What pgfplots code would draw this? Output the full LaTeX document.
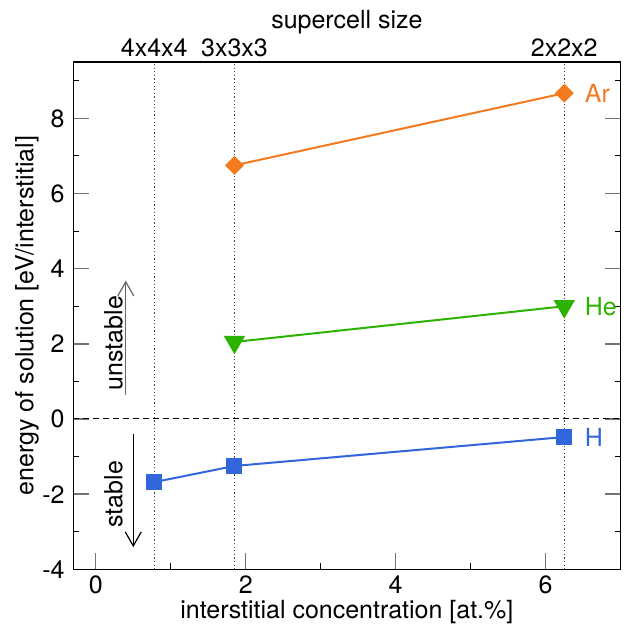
\documentclass[border=0pt]{standalone}
\usepackage{fontspec}
\setmainfont{TeX Gyre Heros}
\usepackage{pgfplots}
\pgfplotsset{compat=1.18}
\usetikzlibrary{arrows.meta}

\definecolor{arOrange}{RGB}{244,122,32}
\definecolor{heGreen}{RGB}{44,178,0}
\definecolor{hBlue}{RGB}{50,102,220}

\begin{document}
\fontsize{12.5}{15}\selectfont
\begin{tikzpicture}
\useasboundingbox (-36.65pt,-27.85pt) rectangle (278.35pt,284.65pt);
\begin{axis}[
    scale only axis,
    width=273.6pt,
    height=253.65pt,
    at={(0,0)}, anchor=south west,
    xmin=-0.3, xmax=7,
    ymin=-4, ymax=9.5,
    xtick={0,2,4,6},
    minor xtick={1,3,5},
    ytick={-4,-2,0,2,4,6,8},
    minor ytick={-3,-1,1,3,5,7,9},
    xtick pos=left,
    tick align=inside,
    major tick length=8pt,
    minor tick length=3pt,
    major tick style={black!55, line width=0.7pt},
    minor tick style={black, line width=0.5pt},
    axis line style={line width=0.6pt},
    xticklabel style={inner sep=1pt, yshift=-2.2pt},
    /pgf/number format/assume math mode=true,
    clip=false,
]

% supercell reference lines
\draw[black!75, line width=0.5pt, dash pattern=on 0.6pt off 1.2pt]
    (axis cs:0.78,-4) -- (axis cs:0.78,9.5);
\draw[black!75, line width=0.5pt, dash pattern=on 0.6pt off 1.2pt]
    (axis cs:1.85,-4) -- (axis cs:1.85,9.5);
\draw[black!75, line width=0.5pt, dash pattern=on 0.6pt off 1.2pt]
    (axis cs:6.25,-4) -- (axis cs:6.25,9.5);
\draw[black, line width=0.5pt, dash pattern=on 3pt off 2pt]
    (axis cs:-0.3,0) -- (axis cs:7,0);

\addplot[hBlue, line width=1pt, mark=square*, mark size=3.5pt]
    coordinates {(0.78,-1.68) (1.85,-1.25) (6.25,-0.48)};
\addplot[heGreen, line width=1pt, mark=triangle*, mark size=5.2pt,
    mark options={rotate=180}]
    coordinates {(1.85,2.05) (6.25,3.0)};
\addplot[arOrange, line width=1pt, mark=square*, mark size=2.85pt,
    mark options={rotate=45}]
    coordinates {(1.85,6.75) (6.25,8.67)};

\node[anchor=west, inner sep=0pt, text=arOrange] at (axis cs:6.52,8.67) {Ar};
\node[anchor=west, inner sep=0pt, text=heGreen] at (axis cs:6.52,3.0) {He};
\node[anchor=west, inner sep=0pt, text=hBlue] at (axis cs:6.52,-0.48) {H};

% stability hints
\node[rotate=90] at (axis cs:0.235,2.02) {unstable};
\node[rotate=90] at (axis cs:0.235,-2.0) {stable};
\draw[black!60, line width=0.6pt, -{Straight Barb[length=7pt,width=8pt]}]
    (axis cs:0.40,0.635) -- (axis cs:0.40,3.68);
\draw[black, line width=0.6pt, -{Straight Barb[length=7pt,width=8pt]}]
    (axis cs:0.50,-0.40) -- (axis cs:0.50,-3.41);

% top labels
\node[anchor=base, inner sep=0pt, yshift=3pt] at (axis cs:0.78,9.5) {4x4x4};
\node[anchor=base, inner sep=0pt, yshift=3pt] at (axis cs:1.85,9.5) {3x3x3};
\node[anchor=base, inner sep=0pt, yshift=3pt] at (axis cs:6.25,9.5) {2x2x2};
\node[anchor=base, inner sep=0pt, yshift=17pt] at (axis cs:3.35,9.5) {supercell size};

% axis titles
\node[anchor=base, inner sep=0pt, yshift=-24.6pt] at (axis cs:3.35,-4)
    {interstitial concentration [at.\%]};
\node[anchor=base, inner sep=0pt, rotate=90] at (axis cs:-0.834,2.75)
    {energy of solution [eV/interstitial]};
\end{axis}
\end{tikzpicture}
\end{document}
